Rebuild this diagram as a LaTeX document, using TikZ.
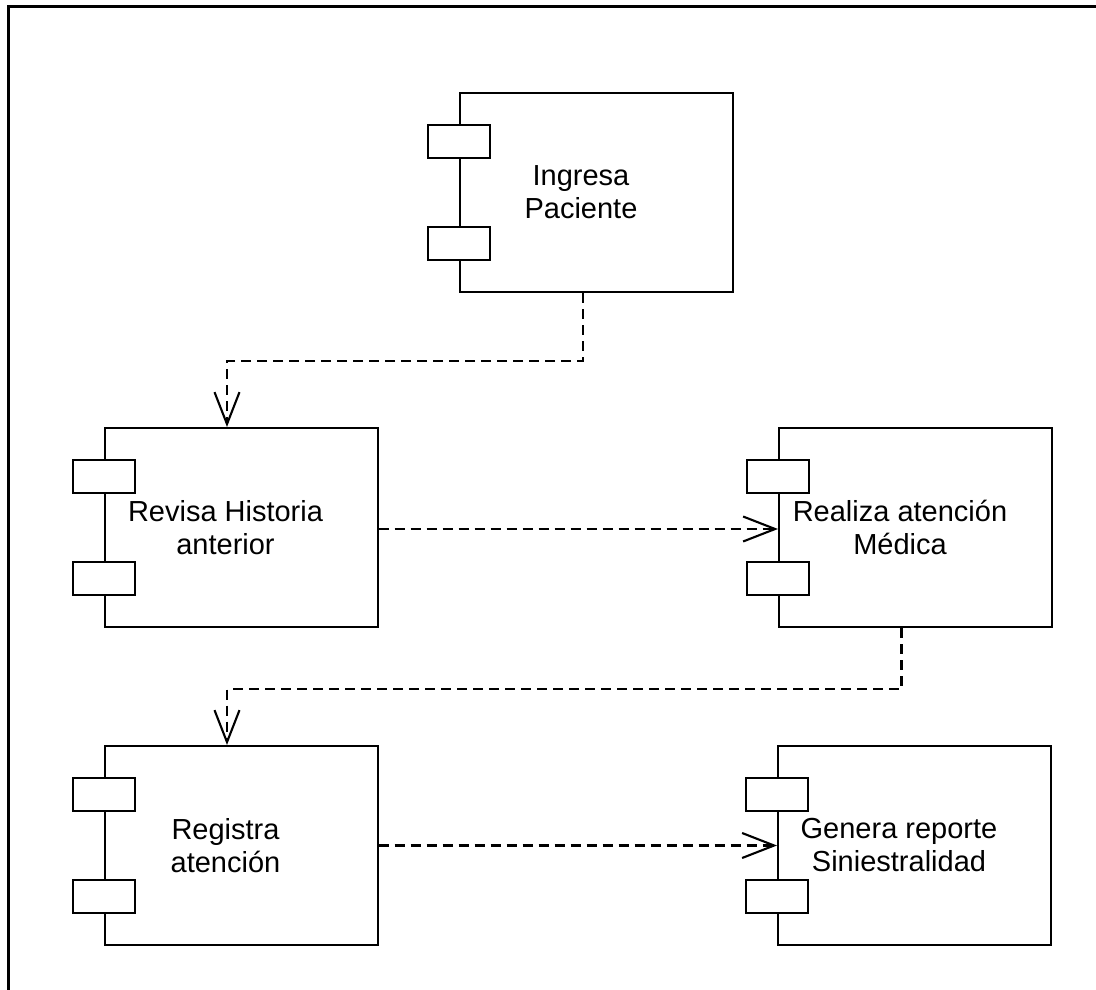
\documentclass[tikz,border=0pt]{standalone}
\usepackage{fontspec}
\setmainfont{Liberation Sans}
\usetikzlibrary{arrows.meta}

% UML component: main box, two port tabs on its left edge, centred caption
\newcommand\umlcomponent[4]{%
  \node[compbox] (#1) at (#2,#3) {};
  \node[porttab] (#1-p1) at ([yshift=-49.5pt]#1.north west) {};
  \node[porttab] (#1-p2) at ([yshift=50pt]#1.south west) {};
  \node[caption] (#1-t) at ([xshift=-15.5pt]#1.center) {#4};
}

\begin{document}
\begin{tikzpicture}[x=1pt,y=-1pt,
  compbox/.style={draw, line width=2pt, minimum width=273pt, minimum height=199pt, inner sep=0pt},
  porttab/.style={draw, fill=white, line width=2pt, minimum width=62pt, minimum height=33pt, inner sep=0pt},
  caption/.style={align=center, font=\fontsize{29}{33}\selectfont, inner sep=0pt},
  dep/.style={line width=2.1pt, dash pattern=on 10pt off 6pt,
    -{Straight Barb[length=32pt,width=25pt,line width=2.1pt]}},
]
\useasboundingbox (0,0) rectangle (1096,990);

% outer frame (top and left edges)
\draw[line width=2.7pt] (8.7,990) -- (8.7,6.3) -- (1096,6.3);

\umlcomponent{ingresa}{596.5}{192.5}{Ingresa\\Paciente}
\umlcomponent{revisa}{241}{527.5}{Revisa Historia\\anterior}
\umlcomponent{realiza}{915.5}{527.5}{Realiza atención\\Médica}
\umlcomponent{registra}{241}{845.5}{Registra\\atención}
\umlcomponent{genera}{914.5}{845.5}{Genera reporte\\Siniestralidad}

% dependencies
\draw[dep] ([xshift=-13.5pt]ingresa.south) -- ++(0,68) -| ([xshift=-14pt]revisa.north);
\draw[dep] ([yshift=-1.5pt]revisa.east) -- ([yshift=-1.5pt]realiza.west);
\draw[dep] ([xshift=-14pt]realiza.south) -- ++(0,61) -| ([xshift=-14pt]registra.north);
\draw[dep] (registra.east) -- (genera.west);
\end{tikzpicture}
\end{document}
